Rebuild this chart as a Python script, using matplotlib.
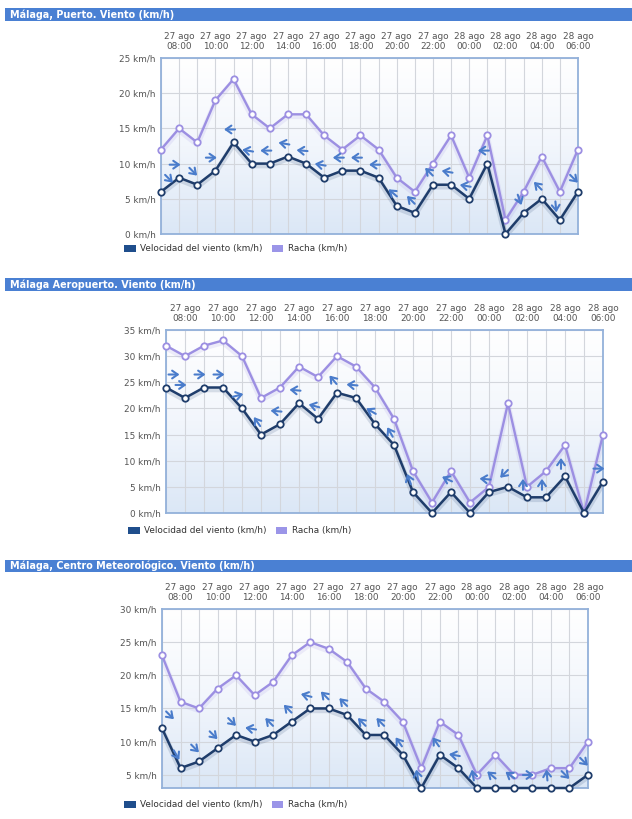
import numpy as np
import matplotlib
matplotlib.use("Agg")
import matplotlib.pyplot as plt
from matplotlib.patches import Rectangle, Patch
from matplotlib.transforms import offset_copy
from matplotlib.colors import LinearSegmentedColormap

# ---------------- data ----------------
hours = ["07:00", "08:00", "09:00", "10:00", "11:00", "12:00", "13:00", "14:00",
         "15:00", "16:00", "17:00", "18:00", "19:00", "20:00", "21:00", "22:00",
         "23:00", "00:00", "01:00", "02:00", "03:00", "04:00", "05:00", "06:00"]
days = ["27 ago"] * 17 + ["28 ago"] * 7

titles = ["Málaga, Puerto. Viento (km/h)",
          "Málaga Aeropuerto. Viento (km/h)",
          "Málaga, Centro Meteorológico. Viento (km/h)"]

p1_vel = [6, 8, 7, 9, 13, 10, 10, 11, 10, 8, 9, 9, 8, 4, 3, 7, 7, 5, 10, 0, 3, 5, 2, 6]
p1_gust = [12, 15, 13, 19, 22, 17, 15, 17, 17, 14, 12, 14, 12, 8, 6, 10, 14, 8, 14, 2, 6, 11, 6, 12]
p1_dir = [-45, 0, -45, 0, 180, 170, 180, 170, 175, 170, 180, 180, 180, 140, 135, 135,
          170, 170, 180, None, -70, 135, -85, -45]

p2_vel = [24, 22, 24, 24, 20, 15, 17, 21, 18, 23, 22, 17, 13, 4, 0, 4, 0, 4, 5, 3, 3, 7, 0, 6]
p2_gust = [32, 30, 32, 33, 30, 22, 24, 28, 26, 30, 28, 24, 18, 8, 2, 8, 2, 5, 21, 5, 8, 13, 0, 15]
p2_dir = [0, 0, 0, 0, 15, 125, 175, 175, 165, 130, 175, 150, 120, 110, None, 155,
          None, 175, 225, 90, 90, 90, None, 0]

p3_vel = [12, 6, 7, 9, 11, 10, 11, 13, 15, 15, 14, 11, 11, 8, 3, 8, 6, 3, 3, 3, 3, 3, 3, 5]
p3_gust = [23, 16, 15, 18, 20, 17, 19, 23, 25, 24, 22, 18, 16, 13, 6, 13, 11, 5, 8, 5, 5, 6, 6, 10]
p3_dir = [-45, -60, -45, -45, -45, 170, 135, 135, 165, 135, 135, 135, 135, 125, 100, 125,
          170, 100, 140, 145, 0, 95, -45, -45]

y_limits = [(0, 25), (0, 35), (3, 30)]
y_ticks = [[0, 5, 10, 15, 20, 25], [0, 5, 10, 15, 20, 25, 30, 35], [5, 10, 15, 20, 25, 30]]

legend_labels = ["Velocidad del viento (km/h)", "Racha (km/h)"]

# ---------------- layout (pixels) ----------------
W, H = 632, 819
DPI = 100
axes_px = [(161, 578, 58, 234), (166, 603, 330, 513), (162, 588, 609, 788)]
bar_px = [(8, 21), (278, 291), (560, 572)]
legend_y = [249, 531, 805]
legend_x = [124, 128, 124]

VEL_C = "#1f3d6b"
GUST_C = "#9c8fe2"
ARROW_C = "#4a7ccb"
BAR_C = "#4a80d3"
TXT_C = "#555555"

fig = plt.figure(figsize=(W / DPI, H / DPI), dpi=DPI)
fig.patch.set_facecolor("white")

panels = [(p1_vel, p1_gust, p1_dir), (p2_vel, p2_gust, p2_dir), (p3_vel, p3_gust, p3_dir)]
x = np.arange(len(hours))
tick_idx = list(range(1, len(hours), 2))

grad = np.linspace(0, 1, 256).reshape(-1, 1)
bg_cmap = LinearSegmentedColormap.from_list("bg", ["#ffffff", "#f2f6fc", "#dbe7f6"])

for k, (vel, gust, dirs) in enumerate(panels):
    l, r, t, b = axes_px[k]
    ax = fig.add_axes([l / W, 1 - b / H, (r - l) / W, (b - t) / H])
    ymin, ymax = y_limits[k]
    ax.set_xlim(0, len(hours) - 1)
    ax.set_ylim(ymin, ymax)

    ax.imshow(grad, extent=[0, 1, 0, 1], transform=ax.transAxes, cmap=bg_cmap,
              aspect="auto", zorder=0, origin="upper")

    for xi in x:
        ax.axvline(xi, color="#d3d6dc", lw=0.8, zorder=1)
    for yt in y_ticks[k]:
        ax.axhline(yt, color="#d3d6dc", lw=0.8, zorder=1)

    for s in ax.spines.values():
        s.set_color("#93b1da")
        s.set_linewidth(1.3)

    # soft shadows slightly below the lines
    shadow = offset_copy(ax.transData, fig=fig, x=0, y=-2, units="dots")
    ax.plot(x, gust, color="#9c8fe2", lw=4, alpha=0.15, zorder=2, transform=shadow)
    ax.plot(x, vel, color="#1f3d6b", lw=4, alpha=0.15, zorder=2, transform=shadow)
    ax.plot(x, gust, color=GUST_C, lw=1.7, marker="o", ms=4.6, mfc="white",
            mec=GUST_C, mew=1.3, zorder=4, clip_on=False)
    ax.plot(x, vel, color=VEL_C, lw=1.8, marker="o", ms=4.6, mfc="white",
            mec=VEL_C, mew=1.3, zorder=5, clip_on=False)

    # direction arrows
    L = 11.0
    for i, (v, a) in enumerate(zip(vel, dirs)):
        if a is None:
            continue
        cx = 8.0 if i == 0 else -4.0
        cy = 13.0
        ca, sa = np.cos(np.radians(a)), np.sin(np.radians(a))
        tip = offset_copy(ax.transData, fig=fig, x=cx + ca * L / 2, y=cy + sa * L / 2, units="dots")
        tail = offset_copy(ax.transData, fig=fig, x=cx - ca * L / 2, y=cy - sa * L / 2, units="dots")
        ax.annotate("", xy=(i, v), xycoords=tip, xytext=(i, v), textcoords=tail,
                    arrowprops=dict(arrowstyle="->,head_length=0.4,head_width=0.28",
                                    color=ARROW_C, lw=1.5, shrinkA=0, shrinkB=0),
                    zorder=6, annotation_clip=False)

    ax.set_yticks(y_ticks[k])
    ax.set_yticklabels([f"{v} km/h" for v in y_ticks[k]], fontsize=6.4, color=TXT_C)
    ax.xaxis.tick_top()
    ax.set_xticks(tick_idx)
    ax.set_xticklabels([f"{days[i]}\n{hours[i]}" for i in tick_idx], fontsize=6.4,
                       color=TXT_C, linespacing=1.2)
    ax.tick_params(axis="both", length=0, pad=4)
    ax.tick_params(axis="x", pad=5)

    bt, bb = bar_px[k]
    fig.patches.append(Rectangle((5 / W, 1 - bb / H), 1 - 5 / W, (bb - bt) / H,
                                 transform=fig.transFigure, facecolor=BAR_C,
                                 edgecolor="none", zorder=0))
    fig.text(10 / W, 1 - ((bt + bb) / 2) / H, titles[k], color="white", fontsize=6.9,
             fontweight="bold", va="center", ha="left")

    handles = [Patch(facecolor="#1f4e8c", edgecolor="none"),
               Patch(facecolor="#9b95e8", edgecolor="none")]
    fig.legend(handles, legend_labels, loc="center left",
               bbox_to_anchor=(legend_x[k] / W - 0.012, 1 - legend_y[k] / H),
               ncol=2, frameon=False, fontsize=6.4, handlelength=1.3, handleheight=0.75,
               handletextpad=0.5, columnspacing=1.0, labelcolor="#333333")

fig.savefig("out.png", dpi=DPI)
